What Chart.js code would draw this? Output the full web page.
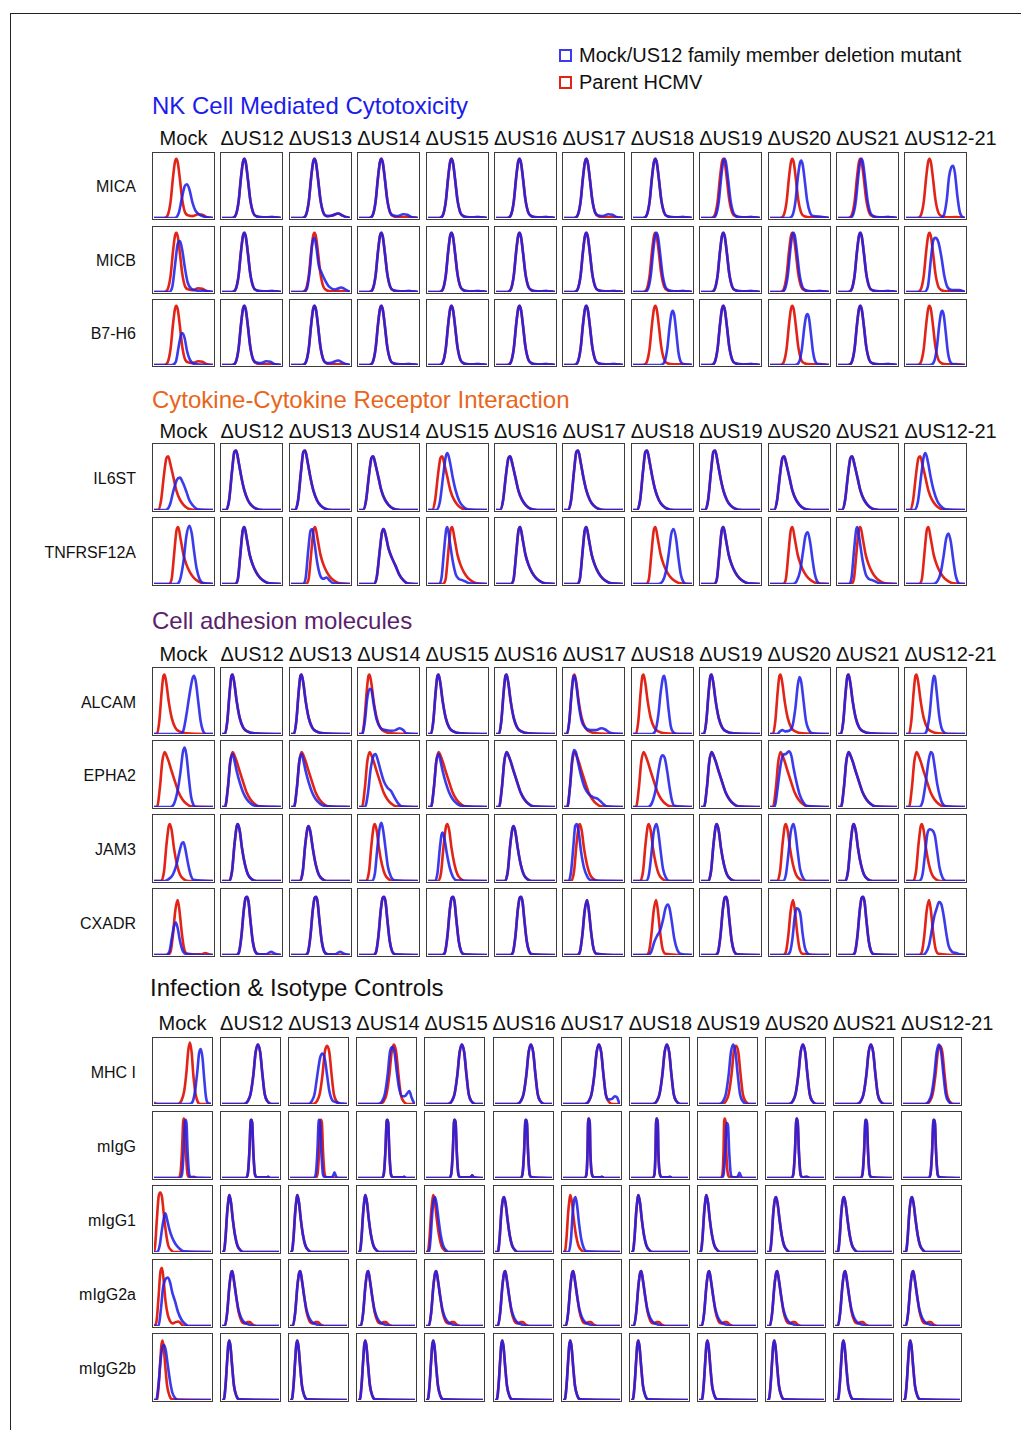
<!DOCTYPE html>
<html>
<head>
<meta charset="utf-8">
<title>US12 family deletion mutants - surface receptor histograms</title>
<script src="https://cdn.jsdelivr.net/npm/chart.js@4.4.0/dist/chart.umd.min.js"></script>
<style>
  html, body { margin: 0; padding: 0; background: #fff; }
  body { width: 1021px; height: 1430px; position: relative; overflow: hidden;
         font-family: "Liberation Sans", Arial, Helvetica, sans-serif; color: #111; }
  .frameTop { position: absolute; left: 10px; top: 13px; right: 0; height: 0; border-top: 1px solid #222; }
  .frameLeft { position: absolute; left: 10px; top: 13px; bottom: 0; width: 0; border-left: 1px solid #222; }
  .txt { position: absolute; white-space: nowrap; }
  .title { font-size: 24px; line-height: 28px; }
  .head { font-size: 20px; line-height: 22px; }
  .rowlab { font-size: 16px; line-height: 18px; text-align: right; width: 130px; }
  .legbox { position: absolute; width: 9px; height: 9px; border: 2px solid; }
  .legtxt { font-size: 20px; line-height: 22px; }
  .panel { position: absolute; box-sizing: border-box; border: 1.5px solid #3c3c3c; background: #fff; }
  .panel canvas { display: block; }
</style>
</head>
<body>
<div class="frameTop"></div>
<div class="frameLeft"></div>

<script>
// ---------- labels ----------
const columns = ["Mock", "ΔUS12", "ΔUS13", "ΔUS14", "ΔUS15", "ΔUS16", "ΔUS17", "ΔUS18", "ΔUS19", "ΔUS20", "ΔUS21", "ΔUS12-21"];
const legendLabels = ["Mock/US12 family member deletion mutant", "Parent HCMV"];
const sectionTitles = ["NK Cell Mediated Cytotoxicity", "Cytokine-Cytokine Receptor Interaction", "Cell adhesion molecules", "Infection & Isotype Controls"];
const nkRows = ["MICA", "MICB", "B7-H6"];
const cytokineRows = ["IL6ST", "TNFRSF12A"];
const adhesionRows = ["ALCAM", "EPHA2", "JAM3", "CXADR"];
const controlRows = ["MHC I", "mIgG", "mIgG1", "mIgG2a", "mIgG2b"];

// ---------- histogram shapes: [fluorescence (0-1), count (0-1)] ----------
// NK section: narrow peaks
const n38 = [[0,0],[0.17,0],[0.23,0.04],[0.28,0.25],[0.32,0.62],[0.355,0.88],[0.38,0.93],[0.405,0.86],[0.44,0.6],[0.48,0.28],[0.53,0.08],[0.58,0.03],[0.7,0.01],[0.85,0.015],[1,0]];
const n40 = [[0,0],[0.19,0],[0.25,0.04],[0.3,0.25],[0.34,0.62],[0.375,0.88],[0.4,0.93],[0.425,0.86],[0.46,0.6],[0.5,0.28],[0.55,0.08],[0.6,0.03],[0.7,0.01],[0.85,0.015],[1,0]];
const n38b = [[0,0],[0.17,0],[0.23,0.04],[0.28,0.25],[0.32,0.62],[0.355,0.88],[0.38,0.93],[0.405,0.86],[0.44,0.6],[0.48,0.28],[0.53,0.08],[0.59,0.04],[0.66,0.03],[0.75,0.06],[0.82,0.05],[0.9,0.01],[1,0]];
const n40b = [[0,0],[0.19,0],[0.25,0.04],[0.3,0.25],[0.34,0.62],[0.375,0.88],[0.4,0.93],[0.425,0.86],[0.46,0.6],[0.5,0.28],[0.55,0.08],[0.61,0.03],[0.7,0.04],[0.8,0.07],[0.87,0.04],[0.95,0.01],[1,0]];
const micaMockBlue = [[0,0],[0.35,0],[0.42,0.08],[0.47,0.3],[0.52,0.5],[0.56,0.53],[0.6,0.45],[0.65,0.25],[0.7,0.12],[0.76,0.06],[0.85,0.02],[1,0]];
const n53 = [[0,0],[0.32,0],[0.38,0.04],[0.43,0.25],[0.47,0.62],[0.505,0.85],[0.53,0.9],[0.555,0.83],[0.59,0.58],[0.63,0.27],[0.68,0.08],[0.73,0.03],[0.85,0.02],[1,0]];
const n80 = [[0,0],[0.58,0],[0.64,0.04],[0.69,0.28],[0.73,0.65],[0.77,0.8],[0.8,0.82],[0.83,0.7],[0.87,0.35],[0.91,0.1],[0.95,0.02],[1,0]];
const micbMockBlue = [[0,0],[0.25,0],[0.31,0.08],[0.36,0.45],[0.4,0.75],[0.44,0.8],[0.48,0.65],[0.52,0.4],[0.57,0.15],[0.63,0.05],[0.75,0.02],[0.85,0.02],[1,0]];
const micb13Blue = [[0,0],[0.2,0],[0.27,0.05],[0.32,0.35],[0.36,0.75],[0.4,0.85],[0.43,0.7],[0.47,0.42],[0.52,0.3],[0.58,0.18],[0.65,0.08],[0.75,0.04],[0.85,0.07],[0.92,0.04],[1,0]];
const micb50 = [[0,0],[0.3,0],[0.37,0.08],[0.42,0.5],[0.46,0.8],[0.5,0.85],[0.55,0.78],[0.6,0.55],[0.65,0.25],[0.7,0.08],[0.78,0.03],[0.9,0.03],[1,0]];
const b7MockBlue = [[0,0],[0.3,0],[0.37,0.05],[0.42,0.3],[0.46,0.48],[0.48,0.5],[0.52,0.42],[0.56,0.22],[0.61,0.08],[0.68,0.02],[1,0]];
const n68 = [[0,0],[0.46,0],[0.53,0.04],[0.58,0.25],[0.62,0.6],[0.65,0.8],[0.675,0.85],[0.7,0.78],[0.735,0.5],[0.77,0.2],[0.81,0.05],[0.87,0.01],[1,0]];
const n64 = [[0,0],[0.42,0],[0.49,0.04],[0.54,0.25],[0.58,0.58],[0.61,0.76],[0.635,0.8],[0.66,0.74],[0.695,0.48],[0.73,0.2],[0.77,0.05],[0.83,0.01],[1,0]];
const n62 = [[0,0],[0.4,0],[0.47,0.04],[0.52,0.25],[0.56,0.6],[0.59,0.8],[0.615,0.85],[0.64,0.78],[0.675,0.5],[0.71,0.2],[0.75,0.05],[0.81,0.01],[1,0]];

// cytokine section: broad right-skewed peaks
const s23 = [[0,0],[0.07,0],[0.12,0.15],[0.17,0.6],[0.21,0.9],[0.24,0.92],[0.28,0.75],[0.33,0.5],[0.38,0.3],[0.44,0.15],[0.5,0.07],[0.58,0.02],[0.7,0],[1,0]];
const s23l = [[0,0],[0.07,0],[0.12,0.15],[0.17,0.55],[0.21,0.8],[0.24,0.83],[0.28,0.7],[0.33,0.5],[0.38,0.3],[0.44,0.16],[0.5,0.08],[0.58,0.02],[0.7,0],[1,0]];
const il6MockBlue = [[0,0],[0.2,0],[0.27,0.08],[0.33,0.3],[0.39,0.47],[0.44,0.5],[0.49,0.42],[0.55,0.28],[0.6,0.15],[0.66,0.07],[0.74,0.01],[1,0]];
const s33 = [[0,0],[0.14,0],[0.2,0.12],[0.26,0.55],[0.3,0.82],[0.33,0.88],[0.37,0.75],[0.42,0.5],[0.47,0.3],[0.53,0.14],[0.59,0.06],[0.67,0.01],[1,0]];
const t38 = [[0,0],[0.22,0],[0.27,0.08],[0.31,0.45],[0.35,0.82],[0.38,0.88],[0.42,0.7],[0.47,0.45],[0.52,0.3],[0.58,0.18],[0.65,0.09],[0.72,0.04],[0.8,0.01],[1,0]];
const t41 = [[0,0],[0.25,0],[0.3,0.08],[0.34,0.45],[0.38,0.82],[0.41,0.88],[0.45,0.7],[0.5,0.45],[0.55,0.3],[0.61,0.18],[0.68,0.09],[0.75,0.04],[0.83,0.01],[1,0]];
const t41w = [[0,0],[0.25,0],[0.3,0.1],[0.35,0.5],[0.39,0.8],[0.42,0.85],[0.46,0.72],[0.5,0.55],[0.56,0.4],[0.62,0.28],[0.68,0.15],[0.75,0.06],[0.82,0.01],[1,0]];
const t34b = [[0,0],[0.2,0],[0.25,0.1],[0.29,0.5],[0.33,0.82],[0.36,0.85],[0.4,0.62],[0.45,0.3],[0.5,0.12],[0.55,0.08],[0.6,0.1],[0.66,0.05],[0.72,0.01],[1,0]];
const t32 = [[0,0],[0.18,0],[0.23,0.1],[0.27,0.5],[0.31,0.85],[0.33,0.88],[0.37,0.65],[0.42,0.35],[0.47,0.15],[0.52,0.08],[0.58,0.06],[0.63,0.04],[0.7,0.01],[1,0]];
const t61 = [[0,0],[0.38,0],[0.44,0.06],[0.5,0.35],[0.55,0.75],[0.6,0.9],[0.64,0.78],[0.68,0.5],[0.72,0.25],[0.77,0.08],[0.82,0.02],[1,0]];
const t69 = [[0,0],[0.42,0],[0.5,0.04],[0.56,0.2],[0.61,0.5],[0.65,0.78],[0.69,0.85],[0.73,0.7],[0.77,0.4],[0.81,0.15],[0.85,0.04],[0.9,0],[1,0]];
const t64 = [[0,0],[0.38,0],[0.45,0.04],[0.51,0.2],[0.56,0.5],[0.6,0.74],[0.64,0.8],[0.68,0.65],[0.72,0.38],[0.76,0.15],[0.8,0.04],[0.86,0],[1,0]];
const t72 = [[0,0],[0.45,0],[0.53,0.04],[0.59,0.18],[0.64,0.45],[0.68,0.7],[0.72,0.78],[0.76,0.65],[0.8,0.38],[0.84,0.14],[0.88,0.03],[0.93,0],[1,0]];

// adhesion section
const a18 = [[0,0],[0.05,0],[0.09,0.2],[0.13,0.65],[0.16,0.9],[0.18,0.92],[0.21,0.78],[0.25,0.5],[0.3,0.25],[0.36,0.1],[0.43,0.04],[0.55,0.01],[1,0]];
const a18b = [[0,0],[0.05,0],[0.09,0.2],[0.13,0.65],[0.16,0.88],[0.18,0.9],[0.21,0.75],[0.25,0.45],[0.3,0.2],[0.36,0.1],[0.45,0.06],[0.55,0.06],[0.63,0.09],[0.7,0.07],[0.78,0.02],[1,0]];
const a20low = [[0,0],[0.06,0],[0.1,0.2],[0.14,0.55],[0.18,0.7],[0.21,0.68],[0.25,0.45],[0.3,0.22],[0.36,0.1],[0.45,0.06],[0.55,0.05],[0.62,0.06],[0.69,0.09],[0.75,0.06],[0.8,0.01],[1,0]];
const a68 = [[0,0],[0.44,0],[0.5,0.06],[0.55,0.3],[0.6,0.6],[0.65,0.85],[0.68,0.9],[0.71,0.8],[0.75,0.5],[0.79,0.2],[0.83,0.05],[0.88,0],[1,0]];
const a53 = [[0,0],[0.32,0],[0.38,0.05],[0.43,0.3],[0.47,0.65],[0.51,0.88],[0.53,0.9],[0.56,0.75],[0.6,0.4],[0.64,0.12],[0.68,0.03],[0.75,0],[1,0]];
const a50s = [[0,0],[0.12,0],[0.17,0.04],[0.21,0.06],[0.26,0.04],[0.32,0.05],[0.38,0.12],[0.43,0.4],[0.47,0.75],[0.5,0.88],[0.53,0.8],[0.57,0.5],[0.61,0.2],[0.66,0.06],[0.72,0.01],[1,0]];
const a48 = [[0,0],[0.3,0],[0.35,0.05],[0.4,0.3],[0.44,0.7],[0.47,0.9],[0.49,0.88],[0.52,0.65],[0.56,0.3],[0.6,0.1],[0.65,0.02],[0.72,0],[1,0]];
const e20 = [[0,0],[0.05,0],[0.1,0.3],[0.14,0.7],[0.18,0.85],[0.21,0.8],[0.25,0.7],[0.3,0.55],[0.36,0.38],[0.42,0.22],[0.48,0.12],[0.55,0.05],[0.63,0.01],[1,0]];
const e20n = [[0,0],[0.05,0],[0.1,0.3],[0.14,0.7],[0.18,0.82],[0.21,0.72],[0.25,0.55],[0.3,0.38],[0.36,0.22],[0.42,0.12],[0.48,0.06],[0.55,0.02],[1,0]];
const e28s = [[0,0],[0.1,0],[0.15,0.2],[0.2,0.6],[0.25,0.8],[0.28,0.82],[0.32,0.72],[0.37,0.55],[0.42,0.4],[0.48,0.3],[0.54,0.25],[0.6,0.15],[0.66,0.06],[0.72,0.01],[1,0]];
const e20t = [[0,0],[0.06,0],[0.1,0.3],[0.14,0.75],[0.17,0.88],[0.2,0.85],[0.24,0.68],[0.29,0.48],[0.35,0.3],[0.42,0.2],[0.5,0.15],[0.58,0.12],[0.65,0.06],[0.72,0.01],[1,0]];
const e53 = [[0,0],[0.28,0],[0.34,0.05],[0.4,0.25],[0.45,0.55],[0.49,0.85],[0.52,0.92],[0.55,0.8],[0.59,0.45],[0.63,0.15],[0.67,0.03],[0.72,0],[1,0]];
const e50 = [[0,0],[0.25,0],[0.32,0.06],[0.38,0.25],[0.43,0.55],[0.47,0.75],[0.5,0.8],[0.54,0.75],[0.58,0.55],[0.62,0.3],[0.66,0.1],[0.7,0.02],[1,0]];
const e32p = [[0,0],[0.08,0],[0.13,0.3],[0.18,0.65],[0.22,0.8],[0.27,0.82],[0.32,0.86],[0.36,0.8],[0.4,0.6],[0.45,0.38],[0.5,0.2],[0.56,0.08],[0.62,0.02],[1,0]];
const e43 = [[0,0],[0.22,0],[0.28,0.08],[0.33,0.35],[0.38,0.7],[0.42,0.85],[0.45,0.82],[0.49,0.6],[0.53,0.35],[0.58,0.15],[0.62,0.05],[0.68,0.01],[1,0]];
const j27 = [[0,0],[0.12,0],[0.17,0.15],[0.21,0.55],[0.25,0.85],[0.27,0.88],[0.3,0.78],[0.34,0.5],[0.39,0.25],[0.44,0.1],[0.5,0.03],[0.58,0],[1,0]];
const j30 = [[0,0],[0.15,0],[0.2,0.15],[0.24,0.55],[0.28,0.82],[0.3,0.85],[0.33,0.75],[0.37,0.5],[0.42,0.25],[0.47,0.1],[0.53,0.03],[0.6,0],[1,0]];
const j50low = [[0,0],[0.18,0],[0.25,0.03],[0.32,0.1],[0.38,0.25],[0.43,0.45],[0.47,0.58],[0.5,0.6],[0.53,0.5],[0.57,0.3],[0.62,0.1],[0.67,0.02],[1,0]];
const j38 = [[0,0],[0.22,0],[0.27,0.12],[0.31,0.5],[0.35,0.82],[0.38,0.9],[0.41,0.78],[0.45,0.5],[0.49,0.22],[0.54,0.07],[0.6,0.01],[1,0]];
const j33 = [[0,0],[0.17,0],[0.22,0.12],[0.26,0.5],[0.3,0.82],[0.33,0.88],[0.36,0.78],[0.4,0.5],[0.45,0.25],[0.5,0.1],[0.56,0.03],[0.62,0],[1,0]];
const j25 = [[0,0],[0.12,0],[0.16,0.12],[0.2,0.5],[0.23,0.72],[0.25,0.75],[0.28,0.65],[0.32,0.42],[0.37,0.2],[0.42,0.07],[0.48,0.01],[1,0]];
const j22 = [[0,0],[0.08,0],[0.12,0.15],[0.16,0.55],[0.19,0.85],[0.22,0.88],[0.25,0.75],[0.29,0.45],[0.34,0.2],[0.4,0.06],[0.46,0.01],[1,0]];
const j40 = [[0,0],[0.22,0],[0.27,0.1],[0.31,0.4],[0.35,0.75],[0.38,0.86],[0.4,0.88],[0.43,0.75],[0.47,0.45],[0.51,0.18],[0.56,0.05],[0.62,0],[1,0]];
const j42w = [[0,0],[0.22,0],[0.28,0.1],[0.32,0.4],[0.36,0.72],[0.4,0.8],[0.45,0.78],[0.49,0.7],[0.53,0.45],[0.57,0.2],[0.62,0.05],[0.68,0],[1,0]];
const c41 = [[0,0],[0.24,0],[0.29,0.05],[0.33,0.3],[0.37,0.7],[0.4,0.88],[0.425,0.9],[0.45,0.82],[0.48,0.55],[0.52,0.22],[0.56,0.06],[0.62,0.01],[1,0]];
const c41b = [[0,0],[0.24,0],[0.29,0.05],[0.33,0.3],[0.37,0.7],[0.4,0.88],[0.425,0.9],[0.45,0.82],[0.48,0.55],[0.52,0.22],[0.56,0.06],[0.63,0.01],[0.75,0.01],[0.83,0.05],[0.9,0.02],[1,0]];
const c40m = [[0,0],[0.22,0],[0.28,0.05],[0.32,0.3],[0.36,0.68],[0.4,0.85],[0.43,0.7],[0.47,0.35],[0.51,0.1],[0.56,0.02],[0.8,0.01],[0.87,0.03],[0.93,0.01],[1,0]];
const c37low = [[0,0],[0.2,0],[0.26,0.05],[0.3,0.25],[0.34,0.45],[0.37,0.5],[0.4,0.42],[0.44,0.22],[0.48,0.08],[0.53,0.02],[1,0]];
const c39 = [[0,0],[0.22,0],[0.27,0.05],[0.31,0.3],[0.35,0.68],[0.39,0.85],[0.42,0.7],[0.46,0.35],[0.5,0.1],[0.55,0.02],[1,0]];
const c60s = [[0,0],[0.25,0],[0.31,0.05],[0.36,0.2],[0.41,0.3],[0.46,0.38],[0.51,0.55],[0.55,0.72],[0.59,0.78],[0.62,0.72],[0.66,0.5],[0.7,0.25],[0.75,0.08],[0.8,0.02],[1,0]];
const c47 = [[0,0],[0.28,0],[0.34,0.05],[0.38,0.25],[0.42,0.6],[0.45,0.72],[0.49,0.7],[0.52,0.6],[0.55,0.35],[0.59,0.12],[0.63,0.03],[0.7,0],[1,0]];
const c57w = [[0,0],[0.28,0],[0.34,0.04],[0.39,0.15],[0.44,0.4],[0.48,0.6],[0.52,0.72],[0.56,0.82],[0.6,0.78],[0.64,0.6],[0.68,0.35],[0.72,0.15],[0.78,0.05],[0.85,0.03],[0.92,0.01],[1,0]];

// controls section
const m63 = [[0,0],[0.38,0],[0.45,0.04],[0.5,0.15],[0.55,0.45],[0.59,0.8],[0.63,0.92],[0.67,0.8],[0.71,0.45],[0.75,0.15],[0.8,0.04],[0.87,0],[1,0]];
const m63b = [[0,0],[0.38,0],[0.45,0.04],[0.5,0.15],[0.55,0.45],[0.59,0.8],[0.63,0.92],[0.67,0.8],[0.71,0.45],[0.75,0.15],[0.8,0.07],[0.86,0.08],[0.91,0.12],[0.95,0.1],[0.98,0.03],[1,0]];
const m60b = [[0,0],[0.35,0],[0.42,0.04],[0.47,0.15],[0.52,0.45],[0.56,0.8],[0.6,0.88],[0.64,0.8],[0.68,0.5],[0.72,0.25],[0.77,0.12],[0.82,0.12],[0.86,0.16],[0.9,0.2],[0.94,0.1],[0.98,0.02],[1,0]];
const m57 = [[0,0],[0.32,0],[0.38,0.04],[0.43,0.15],[0.48,0.45],[0.53,0.72],[0.57,0.78],[0.61,0.7],[0.65,0.45],[0.69,0.2],[0.74,0.06],[0.8,0.03],[0.87,0.01],[1,0]];
const m63n = [[0,0.02],[0.05,0],[0.42,0],[0.48,0.05],[0.53,0.2],[0.57,0.5],[0.6,0.82],[0.63,0.95],[0.66,0.8],[0.69,0.45],[0.73,0.15],[0.77,0.03],[0.82,0],[1,0]];
const m82 = [[0,0],[0.62,0],[0.68,0.04],[0.72,0.2],[0.76,0.5],[0.79,0.78],[0.82,0.85],[0.85,0.72],[0.88,0.4],[0.91,0.12],[0.94,0.02],[1,0]];
const m61 = [[0,0],[0.35,0],[0.42,0.04],[0.47,0.15],[0.52,0.45],[0.56,0.8],[0.6,0.92],[0.64,0.8],[0.68,0.45],[0.72,0.15],[0.77,0.04],[0.84,0],[1,0]];
const m65 = [[0,0],[0.4,0],[0.47,0.04],[0.52,0.15],[0.57,0.45],[0.61,0.8],[0.65,0.9],[0.69,0.8],[0.73,0.45],[0.77,0.15],[0.82,0.04],[0.89,0],[1,0]];
const g52 = [[0,0],[0.42,0],[0.46,0.05],[0.49,0.4],[0.51,0.85],[0.52,0.92],[0.54,0.85],[0.56,0.4],[0.59,0.05],[0.63,0.01],[0.7,0.02],[0.75,0],[1,0]];
const g55 = [[0,0],[0.45,0],[0.49,0.05],[0.52,0.4],[0.54,0.85],[0.55,0.9],[0.57,0.85],[0.59,0.4],[0.62,0.05],[0.66,0.01],[1,0]];
const g51 = [[0,0],[0.41,0],[0.45,0.05],[0.48,0.4],[0.5,0.85],[0.51,0.9],[0.53,0.85],[0.55,0.4],[0.58,0.05],[0.62,0.01],[0.78,0.01],[0.81,0.02],[0.84,0],[1,0]];
const g51b = [[0,0],[0.41,0],[0.45,0.05],[0.48,0.4],[0.5,0.85],[0.51,0.9],[0.53,0.85],[0.55,0.4],[0.58,0.05],[0.62,0.01],[0.72,0.01],[0.76,0.04],[0.78,0.09],[0.8,0.04],[0.84,0],[1,0]];
const g54 = [[0,0],[0.44,0],[0.48,0.05],[0.51,0.4],[0.53,0.85],[0.54,0.9],[0.56,0.85],[0.58,0.4],[0.61,0.05],[0.65,0.01],[1,0]];
const g50b = [[0,0],[0.4,0],[0.44,0.05],[0.47,0.4],[0.49,0.85],[0.5,0.9],[0.52,0.85],[0.54,0.4],[0.57,0.05],[0.61,0.01],[0.78,0.01],[0.81,0.04],[0.84,0.01],[1,0]];
const g45 = [[0,0],[0.37,0],[0.41,0.05],[0.43,0.4],[0.44,0.85],[0.45,0.92],[0.47,0.85],[0.48,0.4],[0.51,0.05],[0.55,0.01],[0.65,0.01],[0.68,0.02],[0.72,0],[1,0]];
const g49b = [[0,0],[0.39,0],[0.43,0.05],[0.46,0.4],[0.48,0.8],[0.49,0.85],[0.51,0.8],[0.53,0.4],[0.56,0.05],[0.6,0.01],[0.66,0.01],[0.69,0.04],[0.71,0.08],[0.73,0.04],[0.76,0],[1,0]];
const i13 = [[0,0],[0.03,0],[0.06,0.2],[0.09,0.6],[0.12,0.85],[0.13,0.88],[0.16,0.75],[0.19,0.5],[0.23,0.25],[0.27,0.1],[0.32,0.03],[0.38,0],[1,0]];
const i12m = [[0,0],[0.02,0.1],[0.05,0.5],[0.08,0.85],[0.11,0.92],[0.14,0.85],[0.17,0.6],[0.21,0.3],[0.25,0.1],[0.3,0.03],[0.35,0],[1,0]];
const i20low = [[0,0],[0.06,0],[0.1,0.1],[0.14,0.35],[0.18,0.55],[0.2,0.6],[0.23,0.5],[0.27,0.35],[0.32,0.22],[0.38,0.12],[0.45,0.05],[0.52,0.01],[1,0]];
const i16 = [[0,0],[0.05,0],[0.08,0.2],[0.11,0.6],[0.14,0.82],[0.16,0.85],[0.19,0.72],[0.22,0.5],[0.26,0.25],[0.3,0.1],[0.35,0.03],[0.4,0],[1,0]];
const i22 = [[0,0],[0.1,0],[0.14,0.2],[0.17,0.6],[0.2,0.82],[0.22,0.85],[0.25,0.7],[0.28,0.45],[0.32,0.2],[0.36,0.07],[0.41,0.01],[1,0]];
const r18 = [[0,0],[0.05,0],[0.09,0.2],[0.13,0.62],[0.16,0.82],[0.18,0.85],[0.21,0.7],[0.25,0.45],[0.29,0.25],[0.34,0.12],[0.4,0.05],[0.48,0.02],[0.55,0],[1,0]];
const r18b = [[0,0],[0.05,0],[0.09,0.2],[0.13,0.62],[0.16,0.82],[0.18,0.85],[0.21,0.7],[0.25,0.45],[0.29,0.22],[0.34,0.08],[0.4,0.04],[0.45,0.06],[0.49,0.06],[0.54,0.02],[0.6,0],[1,0]];
const r22w = [[0,0],[0.08,0],[0.12,0.25],[0.16,0.6],[0.2,0.72],[0.24,0.75],[0.28,0.68],[0.32,0.52],[0.37,0.38],[0.42,0.22],[0.48,0.1],[0.55,0.03],[0.6,0],[1,0]];
const r15m = [[0,0],[0.04,0.05],[0.08,0.45],[0.11,0.82],[0.14,0.9],[0.17,0.7],[0.2,0.4],[0.24,0.18],[0.28,0.08],[0.33,0.04],[0.38,0.06],[0.43,0.07],[0.48,0.03],[0.53,0],[1,0]];
const k15 = [[0,0],[0.05,0],[0.08,0.2],[0.11,0.6],[0.13,0.85],[0.15,0.92],[0.17,0.82],[0.2,0.5],[0.23,0.22],[0.27,0.07],[0.32,0.01],[1,0]];
const k13 = [[0,0],[0.03,0],[0.06,0.2],[0.09,0.6],[0.11,0.85],[0.13,0.92],[0.15,0.82],[0.18,0.5],[0.21,0.22],[0.25,0.07],[0.3,0.01],[1,0]];
const k18 = [[0,0],[0.04,0],[0.08,0.25],[0.12,0.65],[0.15,0.82],[0.18,0.85],[0.21,0.75],[0.24,0.55],[0.28,0.3],[0.32,0.12],[0.37,0.03],[0.42,0],[1,0]];

// ---------- panels: [parent HCMV (red), mock / mutant (blue)] per column ----------
const MICA = [[n38b, micaMockBlue], [n38, n38], [n40b, n40b], [n38, n38b], [n40, n40], [n40, n40], [n38, n38b], [n38, n38], [n38, n40], [n38, n53], [n38, n40], [n40, n80]];
const MICB = [[n38b, micbMockBlue], [n38, n38], [n40, micb13Blue], [n38, n38], [n40, n40], [n40, n40], [n38, n38], [n38, n40], [n38, n38], [n38, n40], [n38, n38], [n40, micb50]];
const B7H6 = [[n38b, b7MockBlue], [n38, n38b], [n40, n40b], [n38, n38], [n40, n40], [n40, n40], [n38, n38], [n38, n68], [n38, n38], [n38, n64], [n38, n38], [n40, n62]];
const IL6ST = [[s23l, il6MockBlue], [s23, s23], [s23, s23], [s23l, s23l], [s23l, s33], [s23l, s23l], [s23, s23], [s23, s23], [s23, s23], [s23l, s23l], [s23l, s23l], [s23l, s33]];
const TNFRSF12A = [[t41, t61], [t38, t38], [t41, t34b], [t41w, t41w], [t41, t32], [t41, t41], [t38, t38], [t38, t69], [t38, t38], [t38, t64], [t38, t32], [t38, t72]];
const ALCAM = [[a18, a68], [a18, a18], [a18, a18], [a18, a20low], [a18, a18], [a18, a18], [a18, a18b], [a18, a53], [a18, a18], [a18, a50s], [a18, a18], [a18, a48]];
const EPHA2 = [[e20, e53], [e20, e20n], [e20, e20n], [e20, e28s], [e20, e20n], [e20, e20], [e20, e20t], [e20, e50], [e20, e20], [e20, e32p], [e20, e20], [e20, e43]];
const JAM3 = [[j27, j50low], [j27, j27], [j30, j30], [j27, j38], [j33, j25], [j30, j30], [j27, j22], [j27, j40], [j27, j27], [j27, j40], [j27, j27], [j27, j42w]];
const CXADR = [[c40m, c37low], [c41, c41b], [c41, c41b], [c41, c41], [c41, c41], [c41, c41], [c39, c39], [c39, c60s], [c41, c41], [c39, c47], [c41, c41], [c39, c57w]];
const MHCI = [[m63n, m82], [m63, m63], [m65, m57], [m63, m60b], [m63, m63], [m63, m63], [m63, m63b], [m63, m63], [m65, m61], [m63, m63], [m63, m63], [m65, m63]];
const mIgG = [[g52, g55], [g51, g51], [g54, g51b], [g51, g51], [g50b, g50b], [g54, g54], [g45, g45], [g45, g45], [g45, g49b], [g52, g52], [g54, g54], [g54, g54]];
const mIgG1 = [[i12m, i20low], [i13, i13], [i13, i13], [i13, i13], [i13, i16], [i16, i16], [i13, i22], [i13, i13], [i13, i13], [i16, i16], [i16, i16], [i16, i16]];
const mIgG2a = [[r15m, r22w], [r18b, r18], [r18b, r18], [r18b, r18], [r18b, r18], [r18b, r18], [r18b, r18], [r18b, r18], [r18b, r18], [r18b, r18], [r18b, r18], [r18b, r18]];
const mIgG2b = [[k15, k18], [k13, k13], [k13, k13], [k13, k13], [k13, k13], [k13, k13], [k13, k13], [k13, k13], [k15, k15], [k13, k13], [k15, k15], [k13, k13]];

// ---------- drawing ----------
const RED = "rgb(226, 36, 24)";
const BLUE = "rgba(32, 32, 232, 0.88)";

function addText(cls, text, left, top, extra) {
  const el = document.createElement("div");
  el.className = "txt " + cls;
  el.textContent = text;
  el.style.left = left + "px";
  el.style.top = top + "px";
  if (extra) Object.assign(el.style, extra);
  document.body.appendChild(el);
  return el;
}

function toPoints(shape) {
  return shape.map(p => ({ x: p[0], y: p[1] }));
}

function drawPanel(left, top, w, h, pair) {
  const box = document.createElement("div");
  box.className = "panel";
  box.style.left = left + "px";
  box.style.top = top + "px";
  box.style.width = w + "px";
  box.style.height = h + "px";
  const canvas = document.createElement("canvas");
  box.appendChild(canvas);
  document.body.appendChild(box);

  new Chart(canvas.getContext("2d"), {
    type: "line",
    data: {
      datasets: [
        { data: toPoints(pair[1]), borderColor: BLUE, order: 0 },
        { data: toPoints(pair[0]), borderColor: RED, order: 1 }
      ]
    },
    options: {
      responsive: true,
      maintainAspectRatio: false,
      animation: false,
      events: [],
      layout: { padding: { left: 1, right: 1, top: 0, bottom: 1 } },
      elements: {
        point: { radius: 0 },
        line: { borderWidth: 2.6, cubicInterpolationMode: "monotone", fill: false }
      },
      plugins: { legend: { display: false }, tooltip: { enabled: false } },
      scales: {
        x: { type: "linear", min: 0, max: 1, display: false },
        y: { min: 0, max: 1.02, display: false }
      }
    }
  });
}

function drawSection(opts) {
  addText("title", opts.title, opts.titleX, opts.titleY, { color: opts.color });
  columns.forEach((c, i) => {
    const left = opts.colLeft + i * opts.pitch;
    if (i === 0) {
      addText("head", c, left, opts.headTop, { width: opts.w + "px", textAlign: "center" });
    } else {
      addText("head", c, left, opts.headTop);
    }
  });
  opts.rows.forEach((row, r) => {
    const top = opts.rowTops[r];
    addText("rowlab", opts.labels[r], 6, top + opts.h / 2 - 8);
    row.forEach((pair, i) => {
      drawPanel(opts.colLeft + i * opts.pitch, top, opts.w, opts.h, pair);
    });
  });
}

// legend
const legY = [49, 76];
const legColors = [BLUE, RED];
legendLabels.forEach((t, i) => {
  const b = document.createElement("div");
  b.className = "legbox";
  b.style.left = "559px";
  b.style.top = legY[i] + "px";
  b.style.borderColor = legColors[i];
  document.body.appendChild(b);
  addText("legtxt", t, 579, legY[i] - 5);
});

drawSection({ title: sectionTitles[0], color: "rgb(28, 28, 235)", titleX: 152, titleY: 92,
  headTop: 127, colLeft: 152, pitch: 68.4, w: 63, h: 68,
  rowTops: [152, 226, 299], labels: nkRows, rows: [MICA, MICB, B7H6] });

drawSection({ title: sectionTitles[1], color: "rgb(232, 102, 28)", titleX: 152, titleY: 386,
  headTop: 420, colLeft: 152, pitch: 68.4, w: 63, h: 69,
  rowTops: [443, 517], labels: cytokineRows, rows: [IL6ST, TNFRSF12A] });

drawSection({ title: sectionTitles[2], color: "rgb(92, 30, 110)", titleX: 152, titleY: 607,
  headTop: 643, colLeft: 152, pitch: 68.4, w: 63, h: 69,
  rowTops: [667, 740, 814, 888], labels: adhesionRows, rows: [ALCAM, EPHA2, JAM3, CXADR] });

drawSection({ title: sectionTitles[3], color: "#111", titleX: 150, titleY: 974,
  headTop: 1012, colLeft: 152, pitch: 68.1, w: 61, h: 69,
  rowTops: [1037, 1111, 1185, 1259, 1333], labels: controlRows, rows: [MHCI, mIgG, mIgG1, mIgG2a, mIgG2b] });
</script>
</body>
</html>
